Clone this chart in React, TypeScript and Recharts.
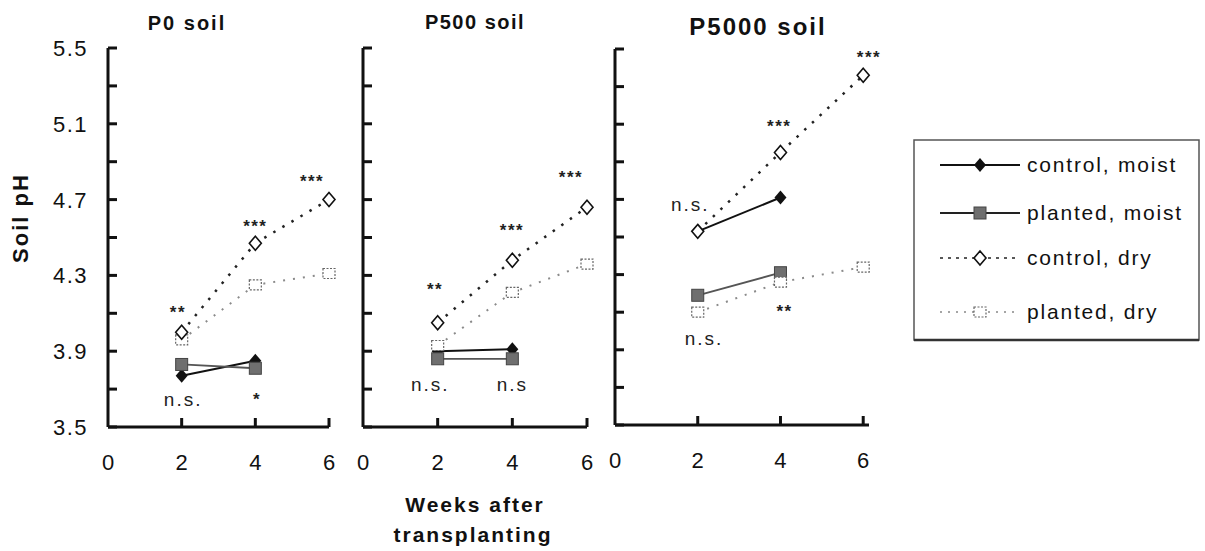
import React from 'react';
import { ComposedChart, Line, Scatter, XAxis, YAxis } from 'recharts';

const FONT = '"Liberation Sans", Arial, Helvetica, sans-serif';

// weeks after transplanting
const WEEKS = [2, 4, 6];
const X_TICKS = [0, 2, 4, 6];
const Y_TICKS = [3.5, 3.7, 3.9, 4.1, 4.3, 4.5, 4.7, 4.9, 5.1, 5.3, 5.5];
const Y_LABELLED = [3.5, 3.9, 4.3, 4.7, 5.1, 5.5];

// P0 soil
const P0_CONTROL_MOIST = [3.77, 3.85];
const P0_PLANTED_MOIST = [3.83, 3.81];
const P0_CONTROL_DRY = [4.0, 4.47, 4.7];
const P0_PLANTED_DRY = [3.96, 4.25, 4.31];
const P0_NOTES = [
  { x: 1.9, y: 4.13, text: '**' },
  { x: 4.0, y: 4.58, text: '***' },
  { x: 5.54, y: 4.82, text: '***' },
  { x: 2.04, y: 3.64, text: 'n.s.' },
  { x: 4.05, y: 3.67, text: '*' },
];

// P500 soil
const P500_CONTROL_MOIST = [3.9, 3.91];
const P500_PLANTED_MOIST = [3.86, 3.86];
const P500_CONTROL_DRY = [4.05, 4.38, 4.66];
const P500_PLANTED_DRY = [3.93, 4.21, 4.36];
const P500_NOTES = [
  { x: 1.93, y: 4.25, text: '**' },
  { x: 3.99, y: 4.56, text: '***' },
  { x: 5.57, y: 4.84, text: '***' },
  { x: 1.8, y: 3.72, text: 'n.s.' },
  { x: 4.0, y: 3.72, text: 'n.s' },
];

// P5000 soil
const P5000_CONTROL_MOIST = [4.53, 4.71];
const P5000_PLANTED_MOIST = [4.19, 4.31];
const P5000_CONTROL_DRY = [4.53, 4.95, 5.36];
const P5000_PLANTED_DRY = [4.1, 4.26, 4.34];
const P5000_NOTES = [
  { x: 1.82, y: 4.67, text: 'n.s.' },
  { x: 3.97, y: 5.11, text: '***' },
  { x: 6.14, y: 5.48, text: '***' },
  { x: 4.1, y: 4.13, text: '**' },
  { x: 2.15, y: 3.96, text: 'n.s.' },
];

const LEGEND = ['control, moist', 'planted, moist', 'control, dry', 'planted, dry'];

const toPoints = (vals: number[]) => vals.map((v, i) => ({ x: WEEKS[i], y: v }));

// markers
const filledDiamond = (cx: number, cy: number, k?: any) => (
  <path key={k} d={`M${cx},${cy - 7} L${cx + 6},${cy} L${cx},${cy + 7} L${cx - 6},${cy} Z`} fill="#111" />
);
const greySquare = (cx: number, cy: number, k?: any) => (
  <rect key={k} x={cx - 6} y={cy - 6} width={12} height={12} fill="#6f6f6f" stroke="#444" strokeWidth={1} />
);
const openDiamond = (cx: number, cy: number, k?: any) => (
  <path key={k} d={`M${cx},${cy - 7} L${cx + 6},${cy} L${cx},${cy + 7} L${cx - 6},${cy} Z`} fill="#fff" stroke="#111" strokeWidth={1.6} />
);
const dottedSquare = (cx: number, cy: number, k?: any) => (
  <rect key={k} x={cx - 6} y={cy - 5} width={12} height={10} fill="#fff" stroke="#666" strokeWidth={1.2} strokeDasharray="2 1.5" />
);

const dotOf = (fn: (cx: number, cy: number, k?: any) => React.ReactElement) => (p: any) => {
  if (p.cx == null || p.cy == null) return <g key={p.index} />;
  return fn(p.cx, p.cy, p.index);
};

const NoteShape = (p: any) => {
  const { cx, cy, payload } = p;
  const star = payload.text.includes('*');
  return (
    <text
      x={cx}
      y={star ? cy + 10 : cy + 6}
      textAnchor="middle"
      fontFamily={FONT}
      fontSize={star ? 17 : 19}
      fontWeight={star ? 'bold' : 'normal'}
      letterSpacing={star ? 1.5 : 2}
      fill="#222"
    >
      {payload.text}
    </text>
  );
};

const XTick = (p: any) => {
  const { x, y, payload } = p;
  return (
    <g>
      {payload.value !== 0 && <line x1={x} y1={y} x2={x} y2={y - 9} stroke="#111" strokeWidth={3} />}
      <text x={x} y={y + 43} textAnchor="middle" fontFamily={FONT} fontSize={22} fill="#111">
        {payload.value}
      </text>
    </g>
  );
};

const makeYTick = (showLabels: boolean) => (p: any) => {
  const { x, y, payload } = p;
  const lab = showLabels && Y_LABELLED.some((v) => Math.abs(v - payload.value) < 1e-6);
  return (
    <g>
      <line x1={x} y1={y} x2={x + 9} y2={y} stroke="#111" strokeWidth={3} />
      {lab && (
        <text x={x - 20} y={y + 8} textAnchor="end" fontFamily={FONT} fontSize={22} letterSpacing={1.5} fill="#111">
          {payload.value.toFixed(1)}
        </text>
      )}
    </g>
  );
};

interface PanelProps {
  left: number;
  width: number;
  plotLeft: number;
  plotRight: number;
  top: number;
  bottom: number;
  showYLabels: boolean;
  controlMoist: number[];
  plantedMoist: number[];
  controlDry: number[];
  plantedDry: number[];
  notes: { x: number; y: number; text: string }[];
}

function Panel(props: PanelProps) {
  const { left, width, plotLeft, plotRight, top, bottom, showYLabels } = props;
  const xAxisH = 40;
  return (
    <div style={{ position: 'absolute', left, top: 0 }}>
      <ComposedChart
        width={width}
        height={551}
        margin={{ top, right: left + width - plotRight, bottom: 551 - bottom - xAxisH, left: 0 }}
      >
        <XAxis
          type="number"
          dataKey="x"
          domain={[0, 6]}
          ticks={X_TICKS}
          interval={0}
          tickSize={0}
          tickMargin={0}
          height={xAxisH}
          tickLine={false}
          axisLine={{ stroke: '#111', strokeWidth: 3 }}
          tick={XTick}
          allowDecimals={false}
        />
        <YAxis
          type="number"
          dataKey="y"
          domain={[3.5, 5.5]}
          ticks={Y_TICKS}
          interval={0}
          tickSize={0}
          tickMargin={0}
          width={plotLeft - left}
          tickLine={false}
          axisLine={{ stroke: '#111', strokeWidth: 3 }}
          tick={makeYTick(showYLabels)}
        />
        <Line
          data={toPoints(props.controlMoist)}
          dataKey="y"
          type="linear"
          stroke="#111"
          strokeWidth={2}
          dot={dotOf(filledDiamond)}
          activeDot={false}
          isAnimationActive={false}
        />
        <Line
          data={toPoints(props.plantedMoist)}
          dataKey="y"
          type="linear"
          stroke="#555"
          strokeWidth={1.8}
          dot={dotOf(greySquare)}
          activeDot={false}
          isAnimationActive={false}
        />
        <Line
          data={toPoints(props.plantedDry)}
          dataKey="y"
          type="linear"
          stroke="#8a8a8a"
          strokeWidth={2}
          strokeDasharray="2 8"
          dot={dotOf(dottedSquare)}
          activeDot={false}
          isAnimationActive={false}
        />
        <Line
          data={toPoints(props.controlDry)}
          dataKey="y"
          type="linear"
          stroke="#222"
          strokeWidth={2.5}
          strokeDasharray="2.5 8"
          dot={dotOf(openDiamond)}
          activeDot={false}
          isAnimationActive={false}
        />
        <Scatter data={props.notes} dataKey="y" shape={NoteShape} isAnimationActive={false} />
      </ComposedChart>
    </div>
  );
}

function LegendBox() {
  const rows = [165, 213, 258, 312];
  const markers = [filledDiamond, greySquare, openDiamond, dottedSquare];
  const lineStyle = [
    { stroke: '#111', strokeWidth: 2, dash: undefined },
    { stroke: '#222', strokeWidth: 2, dash: undefined },
    { stroke: '#222', strokeWidth: 1.5, dash: '3 5' },
    { stroke: '#888', strokeWidth: 1.5, dash: '2 6' },
  ];
  return (
    <svg width={1205} height={551} style={{ position: 'absolute', left: 0, top: 0, pointerEvents: 'none' }}>
      <rect x={914} y={140} width={285} height={200} fill="#fff" stroke="#555" strokeWidth={1.5} />
      <line x1={914} y1={340} x2={1199} y2={340} stroke="#333" strokeWidth={2.5} />
      {LEGEND.map((name, i) => (
        <g key={name}>
          <line
            x1={940}
            x2={1020}
            y1={rows[i]}
            y2={rows[i]}
            stroke={lineStyle[i].stroke}
            strokeWidth={lineStyle[i].strokeWidth}
            strokeDasharray={lineStyle[i].dash}
          />
          {markers[i](980, rows[i])}
          <text x={1027} y={rows[i] + 7} fontFamily={FONT} fontSize={21} letterSpacing={1.8} fill="#111">
            {name}
          </text>
        </g>
      ))}
    </svg>
  );
}

function Titles() {
  return (
    <svg width={1205} height={551} style={{ position: 'absolute', left: 0, top: 0, pointerEvents: 'none' }}>
      <text x={187} y={30} textAnchor="middle" fontFamily={FONT} fontSize={20} fontWeight="bold" letterSpacing={2} fill="#111">
        P0 soil
      </text>
      <text x={475} y={29} textAnchor="middle" fontFamily={FONT} fontSize={20} fontWeight="bold" letterSpacing={1.5} fill="#111">
        P500 soil
      </text>
      <text x={758} y={35} textAnchor="middle" fontFamily={FONT} fontSize={24} fontWeight="bold" letterSpacing={2} fill="#111">
        P5000 soil
      </text>
      <text
        x={28}
        y={218}
        textAnchor="middle"
        transform="rotate(-90 28 218)"
        fontFamily={FONT}
        fontSize={22}
        fontWeight="bold"
        letterSpacing={2}
        fill="#111"
      >
        Soil pH
      </text>
      <text x={475} y={512} textAnchor="middle" fontFamily={FONT} fontSize={21} fontWeight="bold" letterSpacing={2} fill="#111">
        Weeks after
      </text>
      <text x={473} y={542} textAnchor="middle" fontFamily={FONT} fontSize={21} fontWeight="bold" letterSpacing={2} fill="#111">
        transplanting
      </text>
    </svg>
  );
}

export default function App() {
  return (
    <div style={{ position: 'absolute', left: 0, top: 0, width: 1205, height: 551, background: '#fff', overflow: 'hidden' }}>
      <Panel
        left={0}
        width={340}
        plotLeft={108}
        plotRight={329}
        top={48}
        bottom={427}
        showYLabels
        controlMoist={P0_CONTROL_MOIST}
        plantedMoist={P0_PLANTED_MOIST}
        controlDry={P0_CONTROL_DRY}
        plantedDry={P0_PLANTED_DRY}
        notes={P0_NOTES}
      />
      <Panel
        left={340}
        width={260}
        plotLeft={363}
        plotRight={587}
        top={48}
        bottom={427}
        showYLabels={false}
        controlMoist={P500_CONTROL_MOIST}
        plantedMoist={P500_PLANTED_MOIST}
        controlDry={P500_CONTROL_DRY}
        plantedDry={P500_PLANTED_DRY}
        notes={P500_NOTES}
      />
      <Panel
        left={600}
        width={300}
        plotLeft={615}
        plotRight={869}
        top={49}
        bottom={425}
        showYLabels={false}
        controlMoist={P5000_CONTROL_MOIST}
        plantedMoist={P5000_PLANTED_MOIST}
        controlDry={P5000_CONTROL_DRY}
        plantedDry={P5000_PLANTED_DRY}
        notes={P5000_NOTES}
      />
      <Titles />
      <LegendBox />
    </div>
  );
}
